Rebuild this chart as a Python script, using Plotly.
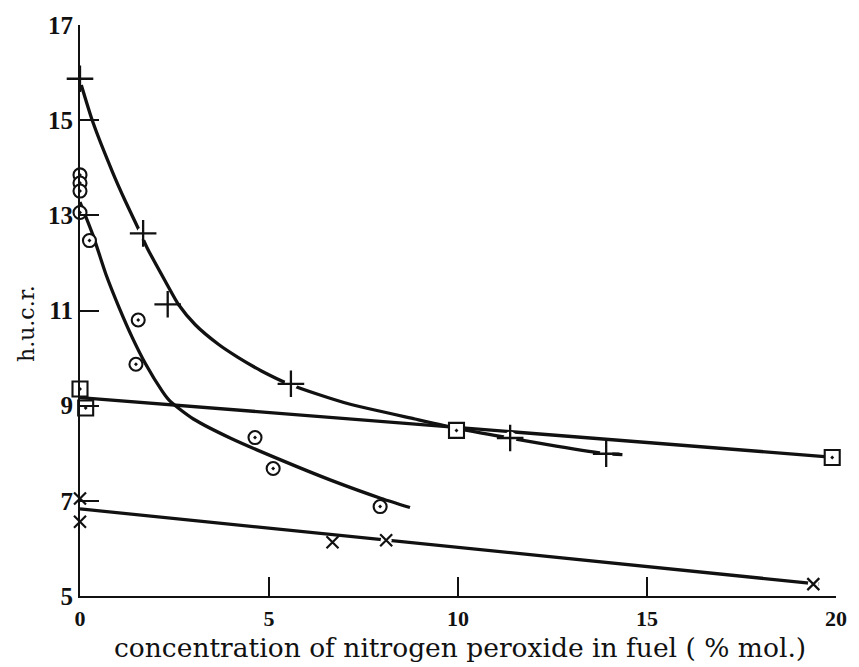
import plotly.graph_objects as go

# Measured points: h.u.c.r. against N2O4 concentration (% mol.)
plus_x = [0, 1.67, 2.32, 5.58, 11.38, 13.92]
plus_y = [15.87, 12.62, 11.13, 9.46, 8.32, 7.99]

circ_x = [0, 0, 0, 0, 0.25, 1.54, 1.48, 4.63, 5.11, 7.94]
circ_y = [13.85, 13.68, 13.51, 13.06, 12.47, 10.8, 9.87, 8.33, 7.68, 6.88]

sq_x = [0, 0.15, 9.96, 19.9]
sq_y = [9.35, 8.95, 8.48, 7.91]

cross_x = [0, 0, 6.68, 8.1, 19.4]
cross_y = [7.05, 6.56, 6.13, 6.17, 5.25]

# Hand-drawn fitted curves
plus_curve_x = [0, 0.34, 0.86, 1.21, 1.52, 1.78, 2.26, 2.61, 3.05, 3.66, 4.19, 4.80,
                5.54, 6.29, 7.1, 8.86, 10.0, 11.38, 12.6, 13.92, 14.35]
plus_curve_y = [15.83, 14.96, 13.91, 13.28, 12.76, 12.31, 11.61, 11.12, 10.70, 10.29, 10.01, 9.73,
                9.45, 9.24, 9.04, 8.72, 8.52, 8.32, 8.15, 7.99, 7.97]

circ_curve_x = [0, 0.34, 0.69, 1.04, 1.39, 1.74, 2.17, 2.35, 2.6, 3.0, 4.0, 5.34, 6.65, 7.97, 8.73]
circ_curve_y = [13.28, 12.59, 11.75, 11.05, 10.42, 9.87, 9.31, 9.12, 8.95, 8.72, 8.31, 7.85, 7.43, 7.05, 6.86]

sq_line_x = [0, 19.7]
sq_line_y = [9.17, 7.93]

cross_line_x = [0, 19.55]
cross_line_y = [6.83, 5.25]

x_ticks = [0, 5, 10, 15, 20]
y_ticks = [5, 7, 9, 11, 13, 15, 17]

INK = "#111111"
LINE_W = 3.3

fig = go.Figure()

def curve(xs, ys, smooth=True):
    fig.add_trace(go.Scatter(
        x=xs, y=ys, mode="lines",
        line=dict(color=INK, width=LINE_W, shape="spline" if smooth else "linear",
                  smoothing=0.6),
        hoverinfo="skip", showlegend=False))

curve(plus_curve_x, plus_curve_y)
curve(circ_curve_x, circ_curve_y)
curve(sq_line_x, sq_line_y, smooth=False)
curve(cross_line_x, cross_line_y, smooth=False)

# White halos break the curves around the + and x marks
for xs, ys, sz in [(plus_x, plus_y, 13), (cross_x[2:], cross_y[2:], 11)]:
    fig.add_trace(go.Scatter(
        x=xs, y=ys, mode="markers",
        marker=dict(symbol="circle", size=sz, color="white", line=dict(width=0)),
        hoverinfo="skip", showlegend=False, cliponaxis=False))

fig.add_trace(go.Scatter(
    x=plus_x, y=plus_y, mode="markers",
    marker=dict(symbol="cross-thin", size=19, line=dict(color=INK, width=2.3)),
    showlegend=False, cliponaxis=False))

fig.add_trace(go.Scatter(
    x=cross_x, y=cross_y, mode="markers",
    marker=dict(symbol="x-thin", size=12, line=dict(color=INK, width=2.2)),
    showlegend=False, cliponaxis=False))

fig.add_trace(go.Scatter(
    x=circ_x, y=circ_y, mode="markers",
    marker=dict(symbol="circle-dot", size=13, color="white",
                line=dict(color=INK, width=2.1)),
    showlegend=False, cliponaxis=False))

fig.add_trace(go.Scatter(
    x=sq_x, y=sq_y, mode="markers",
    marker=dict(symbol="square-dot", size=15, color="white",
                line=dict(color=INK, width=2.1)),
    showlegend=False, cliponaxis=False))

axis_common = dict(
    showline=True, linecolor=INK, linewidth=2.2, mirror=False,
    ticks="inside", ticklen=19, tickwidth=1.8, tickcolor=INK,
    showgrid=False, zeroline=False)

fig.update_xaxes(
    range=[0, 20], tickvals=x_ticks, ticktext=[str(v) for v in x_ticks],
    tickfont=dict(family="Liberation Serif", size=22, color=INK, weight="bold"),
    ticklabelstandoff=1, **axis_common)
fig.update_yaxes(
    range=[5, 17], tickvals=y_ticks, ticktext=[str(v) for v in y_ticks],
    tickfont=dict(family="Liberation Serif", size=25, color=INK, weight="bold"),
    **axis_common)

fig.update_layout(
    width=859, height=667,
    margin=dict(l=79.5, r=17.5, t=23, b=71),
    paper_bgcolor="white", plot_bgcolor="white",
    font=dict(family="Liberation Serif", color=INK),
    annotations=[
        dict(text="concentration of nitrogen peroxide in fuel ( % mol.)",
             xref="paper", yref="paper", x=0.503, y=-0.09,
             showarrow=False, xanchor="center", yanchor="middle",
             font=dict(family="DejaVu Serif", size=26.5, color=INK)),
        dict(text="h.u.c.r.", xref="paper", yref="paper", x=-0.0715, y=0.478,
             showarrow=False, textangle=-90, xanchor="center", yanchor="middle",
             font=dict(family="DejaVu Serif", size=22, color=INK)),
    ],
)

fig.write_html("out.html")
